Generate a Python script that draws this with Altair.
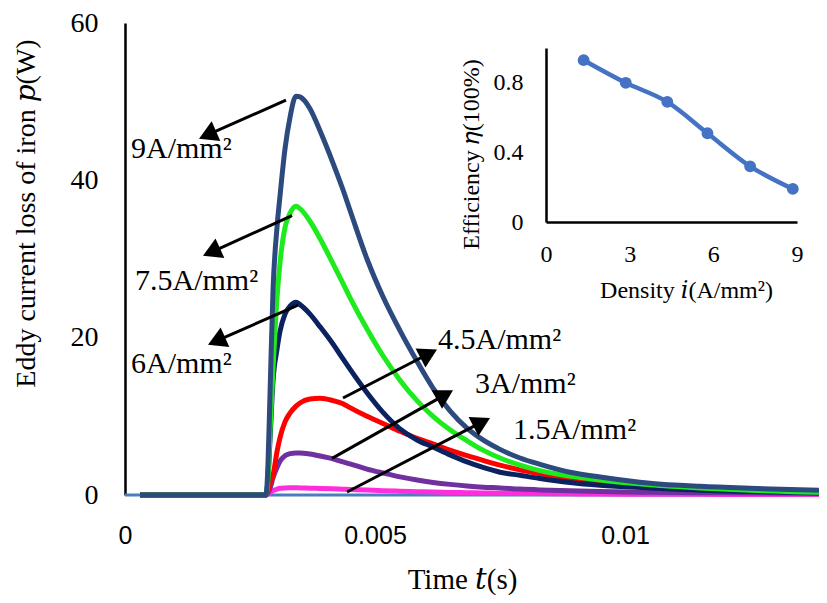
import math
import altair as alt
import pandas as pd

# ---------------- main chart data (time in ms, loss in W) ----------------
time_ms = [0.30, 2.82, 2.86, 2.90, 2.96, 3.04, 3.10, 3.20, 3.30, 3.42, 3.50,
           3.70, 3.90, 4.16, 4.36, 4.50, 4.84, 5.16, 5.50, 5.84, 6.16, 6.50,
           6.84, 7.16, 7.50, 7.90, 8.30, 8.90, 9.50, 10.50, 11.50, 12.50, 13.88]

loss_9 = [0, 0, 4, 12.8, 26, 34, 38, 44, 48, 50.7, 50.6,
          49.1, 46.3, 42.2, 38.8, 36.2, 30.0, 25.2, 20.9, 17.0, 13.6, 10.7,
          8.5, 7.0, 5.8, 4.7, 3.9, 2.9, 2.3, 1.5, 1.1, 0.85, 0.6]
loss_75 = [0, 0, 2, 8, 16, 25, 29.5, 34, 35.8, 36.7, 36.4,
           34.8, 32.6, 29.4, 26.9, 25.1, 21.1, 17.7, 14.6, 12.0, 10.0, 8.3,
           6.9, 5.7, 4.7, 3.8, 3.1, 2.4, 1.9, 1.3, 0.9, 0.6, 0.35]
loss_6 = [0, 0, 2, 7, 14.5, 18.5, 20.8, 23, 24, 24.5, 24.2,
          23.0, 21.4, 19.2, 17.3, 16.0, 13.0, 10.5, 8.4, 7.0, 6.1, 5.1,
          4.2, 3.5, 2.9, 2.5, 2.1, 1.6, 1.25, 0.9, 0.6, 0.45, 0.3]
loss_45 = [0, 0, 0.5, 1.5, 2.5, 5.5, 7.3, 9.3, 10.4, 11.3, 11.7,
           12.2, 12.3, 12.0, 11.6, 11.1, 10.0, 9.1, 8.1, 7.2, 6.5, 5.7,
           5.0, 4.4, 3.8, 3.2, 2.7, 2.1, 1.7, 1.2, 0.85, 0.6, 0.45]
loss_3 = [0, 0, 0.3, 0.8, 2.2, 3.5, 4.3, 5.0, 5.25, 5.35, 5.35,
          5.2, 4.95, 4.6, 4.2, 3.95, 3.3, 2.8, 2.3, 1.9, 1.6, 1.35,
          1.15, 1.0, 0.9, 0.75, 0.65, 0.55, 0.45, 0.35, 0.3, 0.25, 0.2]
loss_15 = [0, 0, 0.1, 0.3, 0.55, 0.75, 0.85, 0.9, 0.92, 0.92, 0.9,
           0.87, 0.83, 0.78, 0.73, 0.7, 0.62, 0.55, 0.48, 0.42, 0.37, 0.33,
           0.29, 0.26, 0.23, 0.2, 0.18, 0.15, 0.12, 0.1, 0.08, 0.06, 0.05]

base_time_ms = [0.0, 13.88]
base_loss = [0, 0]

# draw order: bottom first
series_values = [loss_15, loss_3, loss_45, loss_6, loss_75, loss_9]
series_colors = ["#FF2EDD", "#7030A0", "#FF0000", "#0B2260", "#1EEB1E", "#2C4A7E"]

# ---------------- annotations ----------------
ann_labels = ["9A/mm²", "7.5A/mm²", "6A/mm²", "4.5A/mm²", "3A/mm²", "1.5A/mm²"]
ann_text_t = [0.12, 0.20, 0.12, 6.26, 7.00, 7.76]
ann_text_p = [42.8, 26.0, 15.5, 18.6, 12.96, 7.17]
arrow_from_t = [3.22, 3.34, 3.46, 4.36, 4.14, 4.44]
arrow_from_p = [50.2, 35.5, 24.15, 12.33, 4.65, 0.38]
arrow_to_t = [1.48, 1.56, 1.66, 6.24, 6.56, 7.30]
arrow_to_p = [45.3, 30.4, 19.1, 18.5, 13.3, 9.8]

# ---------------- inset data ----------------
inset_density = [1.35, 2.86, 4.35, 5.79, 7.32, 8.85]
inset_eff = [0.93, 0.80, 0.69, 0.51, 0.32, 0.19]

# ---------------- geometry ----------------
W, H = 694, 472
X_MAX_MS = 13.88
PX_PER_MS = W / X_MAX_MS
PX_PER_W = H / 60.0
HEAD_SIZE = 460
HEAD_HALF = math.sqrt(3) / 2 * math.sqrt(HEAD_SIZE) / 2

SERIF = "Liberation Serif, DejaVu Serif, serif"

xs = alt.Scale(domain=[0, X_MAX_MS / 1000], nice=False, zero=False)
ys = alt.Scale(domain=[0, 60], nice=False)

x_axis = alt.Axis(orient="bottom", values=[0, 0.005, 0.01], format="~g", labelFont="Liberation Sans",
                  labelFontSize=25, labelColor="black", labelPadding=28, labelFlush=False,
                  ticks=False, domain=False, grid=False,
                  title="Time 𝑡(s)", titleFont=SERIF, titleFontSize=29,
                  titleFontWeight="normal", titleColor="black", titleX=337, titleY=93,
                  titleAlign="center", titleBaseline="alphabetic")
y_axis = alt.Axis(orient="left", values=[0, 20, 40, 60], labelFont=SERIF, labelFontSize=28,
                  labelColor="black", labelPadding=27, ticks=False, domain=True,
                  domainColor="black", domainWidth=2.5, grid=False,
                  title="Eddy current loss of iron  𝑝(W)", titleFont=SERIF,
                  titleFontSize=28, titleFontWeight="normal", titleColor="black",
                  titleAngle=270, titleX=-91, titleY=190, titleAlign="center",
                  titleBaseline="alphabetic")

layers = []
base_df = pd.DataFrame({"t": [v / 1000 for v in base_time_ms], "p": base_loss})
layers.append(alt.Chart(base_df).mark_line(color="#4A7EC4", strokeWidth=3).encode(
    x=alt.X("t:Q", scale=xs, axis=x_axis),
    y=alt.Y("p:Q", scale=ys, axis=y_axis)))

for vals, col in zip(series_values, series_colors):
    df = pd.DataFrame({"t": [v / 1000 for v in time_ms], "p": vals})
    layers.append(alt.Chart(df).mark_line(color=col, strokeWidth=5, interpolate="monotone").encode(
        x=alt.X("t:Q", scale=xs, axis=None),
        y=alt.Y("p:Q", scale=ys, axis=None)))

rows = []
for i in range(len(ann_labels)):
    dxp = (arrow_to_t[i] - arrow_from_t[i]) * PX_PER_MS
    dyp = -(arrow_to_p[i] - arrow_from_p[i]) * PX_PER_W
    L = math.hypot(dxp, dyp)
    ux, uy = dxp / L, dyp / L
    ang = math.degrees(math.atan2(ux, -uy)) % 360
    ct = arrow_to_t[i] - HEAD_HALF * ux / PX_PER_MS
    cp = arrow_to_p[i] + HEAD_HALF * uy / PX_PER_W
    rows.append({"t0": arrow_from_t[i] / 1000, "p0": arrow_from_p[i],
                 "t1": ct / 1000, "p1": cp, "ang": ang,
                 "lt": ann_text_t[i] / 1000, "lp": ann_text_p[i], "label": ann_labels[i]})
arr_df = pd.DataFrame(rows)

layers.append(alt.Chart(arr_df).mark_rule(color="black", strokeWidth=3).encode(
    x=alt.X("t0:Q", scale=xs, axis=None), y=alt.Y("p0:Q", scale=ys, axis=None),
    x2="t1:Q", y2="p1:Q"))
layers.append(alt.Chart(arr_df).mark_point(shape="triangle-up", filled=True, color="black",
                                           opacity=1, size=HEAD_SIZE).encode(
    x=alt.X("t1:Q", scale=xs, axis=None), y=alt.Y("p1:Q", scale=ys, axis=None),
    angle=alt.Angle("ang:Q", scale=None)))
layers.append(alt.Chart(arr_df).mark_text(align="left", baseline="alphabetic", font=SERIF,
                                          fontSize=30, color="black").encode(
    x=alt.X("lt:Q", scale=xs, axis=None), y=alt.Y("lp:Q", scale=ys, axis=None),
    text="label:N"))

# ---------------- inset ----------------
inset_df = pd.DataFrame({"i": inset_density, "eta": inset_eff})
ixs = alt.Scale(domain=[0, 9], range=[421, 672], nice=False, zero=False)
iys = alt.Scale(domain=[0, 1], range=[199, 25], nice=False, zero=False)
ix_axis = alt.Axis(orient="bottom", offset=-273, values=[0, 3, 6, 9], labelFont=SERIF,
                   labelFontSize=24, labelColor="black", labelPadding=20, labelFlush=False,
                   ticks=False, domain=True, domainColor="black", domainWidth=2.5, grid=False,
                   title="Density 𝑖(A/mm²)", titleFont=SERIF, titleFontSize=24,
                   titleFontWeight="normal", titleColor="black", titleX=561, titleY=75,
                   titleAlign="center", titleBaseline="alphabetic")
iy_axis = alt.Axis(orient="left", offset=-421, values=[0, 0.4, 0.8], format="~g",
                   labelFont=SERIF, labelFontSize=24, labelColor="black", labelPadding=23,
                   ticks=False, domain=True, domainColor="black", domainWidth=2.5, grid=False,
                   title="Efficiency 𝜂(100%)", titleFont=SERIF, titleFontSize=24,
                   titleFontWeight="normal", titleColor="black", titleAngle=270,
                   titleX=-68, titleY=131, titleAlign="center", titleBaseline="alphabetic")

layers.append(alt.Chart(inset_df).mark_line(color="#4472C4", strokeWidth=4.5,
                                            interpolate="monotone").encode(
    x=alt.X("i:Q", scale=ixs, axis=ix_axis),
    y=alt.Y("eta:Q", scale=iys, axis=iy_axis)))
layers.append(alt.Chart(inset_df).mark_circle(color="#4472C4", opacity=1, size=140).encode(
    x=alt.X("i:Q", scale=ixs, axis=None),
    y=alt.Y("eta:Q", scale=iys, axis=None)))

chart = alt.layer(*layers).resolve_scale(x="independent", y="independent").properties(
    width=W, height=H,
    padding={"left": 117, "top": 15, "right": 0, "bottom": 100},
    autosize=alt.AutoSizeParams(type="none"),
    background="white",
).configure_view(strokeWidth=0)

chart.save("out.html", embed_options={"renderer": "svg", "actions": False})
